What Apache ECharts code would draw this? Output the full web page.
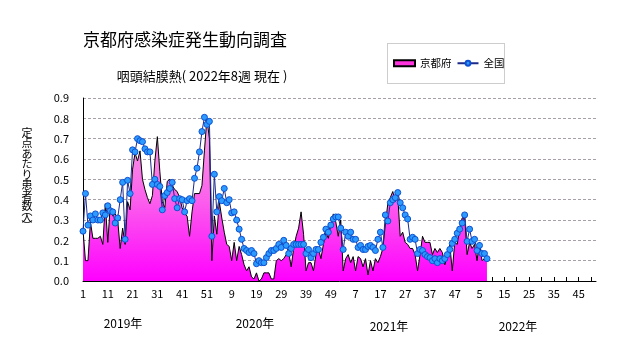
<!DOCTYPE html>
<html><head><meta charset="utf-8">
<script src="https://cdn.jsdelivr.net/npm/echarts@6/dist/echarts.min.js"></script>
<style>html,body{margin:0;padding:0;background:#fff}#c{width:631px;height:347px}</style>
</head><body><div id="c"></div>
<script>
const yearNames = ['2019年','2020年','2021年','2022年'];
const weeksPerYear = [52, 52, 52, 52];
const seriesNames = ['京都府', '全国'];
const kyoto = [
0.25,0.10,0.10,0.29,0.21,0.21,0.21,0.22,0.18,0.38,
0.19,0.37,0.32,0.33,0.30,0.16,0.26,0.18,0.39,0.35,
0.55,0.63,0.59,0.64,0.50,0.45,0.41,0.38,0.42,0.59,
0.71,0.54,0.39,0.36,0.49,0.50,0.47,0.45,0.44,0.41,
0.36,0.33,0.32,0.22,0.34,0.43,0.43,0.43,0.47,0.64,
0.80,0.70,0.10,0.32,0.23,0.39,0.31,0.24,0.18,0.17,
0.10,0.19,0.10,0.17,0.13,0.08,0.05,0.07,0.02,0.01,
0.04,0.00,0.01,0.04,0.04,0.04,0.01,0.01,0.10,0.11,
0.10,0.11,0.13,0.14,0.07,0.16,0.22,0.26,0.34,0.23,
0.05,0.09,0.09,0.05,0.13,0.16,0.11,0.18,0.24,0.21,
0.28,0.33,0.29,0.22,0.30,0.05,0.11,0.13,0.09,0.12,
0.05,0.12,0.11,0.07,0.11,0.03,0.10,0.05,0.11,0.09,
0.12,0.16,0.28,0.38,0.41,0.44,0.39,0.42,0.22,0.24,
0.19,0.18,0.16,0.16,0.13,0.05,0.13,0.22,0.19,0.19,
0.19,0.13,0.16,0.14,0.16,0.14,0.08,0.12,0.18,0.05,
0.19,0.18,0.26,0.31,0.32,0.13,0.19,0.16,0.18,0.10,
0.19,0.10,0.11,0.10
];
const national = [
0.245,0.43,0.275,0.32,0.30,0.33,0.30,0.30,0.335,0.325,
0.37,0.345,0.34,0.285,0.31,0.40,0.485,0.205,0.495,0.43,
0.645,0.635,0.70,0.69,0.685,0.65,0.635,0.635,0.475,0.50,
0.475,0.465,0.35,0.42,0.435,0.455,0.485,0.405,0.36,0.405,
0.40,0.34,0.395,0.405,0.395,0.505,0.555,0.635,0.735,0.805,
0.77,0.785,0.22,0.525,0.34,0.415,0.395,0.455,0.385,0.40,
0.335,0.34,0.30,0.255,0.205,0.16,0.15,0.14,0.15,0.135,
0.085,0.10,0.09,0.09,0.115,0.135,0.15,0.15,0.16,0.18,
0.165,0.20,0.175,0.135,0.16,0.18,0.18,0.18,0.18,0.18,
0.135,0.155,0.115,0.135,0.155,0.155,0.19,0.215,0.255,0.24,
0.275,0.305,0.315,0.315,0.26,0.155,0.24,0.22,0.24,0.205,
0.205,0.165,0.175,0.155,0.155,0.17,0.175,0.165,0.15,0.205,
0.24,0.165,0.325,0.295,0.385,0.40,0.41,0.435,0.385,0.36,
0.325,0.305,0.205,0.215,0.205,0.135,0.155,0.15,0.13,0.12,
0.115,0.10,0.11,0.09,0.11,0.10,0.11,0.13,0.155,0.185,
0.205,0.235,0.255,0.285,0.325,0.195,0.255,0.195,0.205,0.15,
0.175,0.135,0.135,0.11
];

const categories = [];
weeksPerYear.forEach(n => { for (let w = 1; w <= n; w++) categories.push(String(w)); });

const FONT = '"Noto Sans CJK JP", "Noto Sans", sans-serif';
const chart = echarts.init(document.getElementById('c'), null, {renderer: 'canvas'});

const yearLabelPos = [[123, 323], [255, 323], [389, 326], [518, 326]];
const yNameChars = ['定','点','あ','た','り','患','者','数','︵','人','︶'];
const yNameY = [132.5, 143, 153.5, 164, 174.5, 185, 195.5, 206, 211, 217.5, 226];

chart.setOption({
  backgroundColor: '#fff',
  animation: false,
  textStyle: {fontFamily: FONT},
  grid: {left: 83, right: 35, top: 98, bottom: 66, containLabel: false},
  legend: {
    data: [
      {name: seriesNames[0], icon: 'rect'},
      {name: seriesNames[1]}
    ],
    left: 393, top: 58, padding: 0,
    itemWidth: 21, itemHeight: 6, itemGap: 5,
    textStyle: {fontSize: 10.5, color: '#000', fontFamily: FONT}
  },
  xAxis: {
    type: 'category',
    data: categories,
    boundaryGap: false,
    axisLine: {lineStyle: {color: '#000', width: 1}},
    axisTick: {interval: 4, inside: true, length: 4, lineStyle: {color: '#000'}},
    axisLabel: {interval: 9, color: '#000', fontSize: 11, margin: 7, fontFamily: FONT},
    splitLine: {show: false}
  },
  yAxis: {
    type: 'value',
    min: 0, max: 0.9, interval: 0.1,
    axisLine: {show: true, lineStyle: {color: '#000', width: 1}},
    axisTick: {show: false},
    axisLabel: {color: '#000', fontSize: 11, margin: 14, fontFamily: FONT,
      formatter: v => v.toFixed(1)},
    splitLine: {show: true, lineStyle: {color: '#a8a0a8', type: [3, 2], width: 1}}
  },
  series: [
    {
      name: seriesNames[0],
      type: 'line',
      data: kyoto,
      symbol: 'none',
      z: 2,
      itemStyle: {color: '#ff33dd', borderColor: '#000', borderWidth: 1},
      lineStyle: {color: '#000', width: 1},
      areaStyle: {
        opacity: 1,
        color: new echarts.graphic.LinearGradient(0, 0, 0, 1, [
          {offset: 0, color: '#f6a6e2'},
          {offset: 0.5, color: '#fb60ec'},
          {offset: 1, color: '#ff00ff'}
        ])
      }
    },
    {
      name: seriesNames[1],
      type: 'line',
      data: national,
      symbol: 'circle',
      symbolSize: 6,
      showAllSymbol: true,
      z: 3,
      lineStyle: {color: '#1c2a8c', width: 1},
      itemStyle: {color: '#2b9bff', borderColor: '#1050d0', borderWidth: 1}
    }
  ],
  graphic: [
    {type: 'text', style: {
      text: '京都府感染症発生動向調査', x: 185, y: 40, align: 'center', verticalAlign: 'middle',
      font: '17px ' + FONT, fill: '#000'}},
    {type: 'text', style: {
      text: '咽頭結膜熱( 2022年8週 現在 )', x: 202, y: 76, align: 'center', verticalAlign: 'middle',
      font: '13px ' + FONT, fill: '#000'}},
    {type: 'rect', shape: {x: 387.5, y: 43.5, width: 117, height: 40},
      style: {fill: 'none', stroke: '#9a9a9a', lineWidth: 1, lineDash: [1, 1]}, z: -1}
  ].concat(yNameChars.map((ch, k) => ({type: 'text', style: {
      text: ch, x: 27, y: yNameY[k], align: 'center', verticalAlign: 'middle',
      font: '11px ' + FONT, fill: '#000'}})))
   .concat(yearNames.map((t, k) => ({type: 'text', style: {
      text: t, x: yearLabelPos[k][0], y: yearLabelPos[k][1], align: 'center', verticalAlign: 'middle',
      font: '12px ' + FONT, fill: '#000'}})))
});
</script></body></html>
